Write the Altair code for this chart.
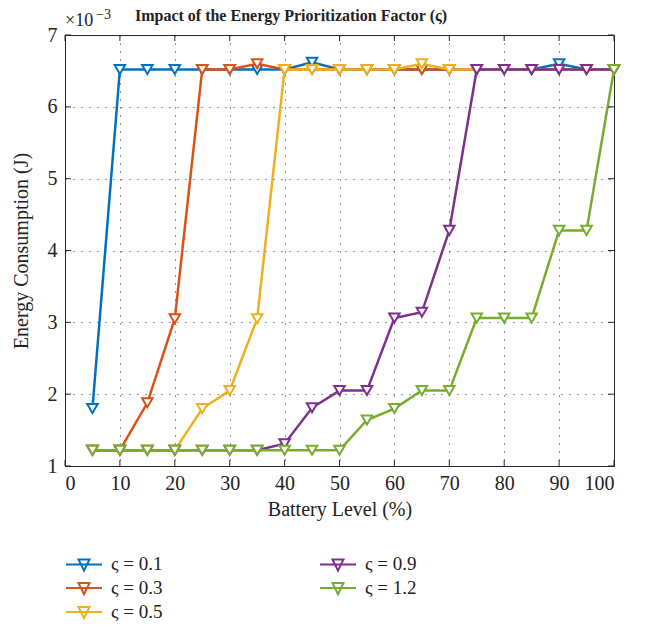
import altair as alt
import pandas as pd

battery = [5, 10, 15, 20, 25, 30, 35, 40, 45, 50, 55, 60, 65, 70, 75, 80, 85, 90, 95, 100]

# energy in units of 1e-3 J
s01 = [1.80, 6.52, 6.52, 6.52, 6.52, 6.52, 6.52, 6.52, 6.62, 6.52, 6.52, 6.52, 6.52, 6.52, 6.52, 6.52, 6.52, 6.60, 6.52, 6.52]
s03 = [1.22, 1.22, 1.88, 3.05, 6.52, 6.52, 6.60, 6.52, 6.52, 6.52, 6.52, 6.52, 6.52, 6.52, 6.52, 6.52, 6.52, 6.52, 6.52, 6.52]
s05 = [1.22, 1.22, 1.22, 1.22, 1.80, 2.05, 3.05, 6.52, 6.52, 6.52, 6.52, 6.52, 6.60, 6.52, 6.52, 6.52, 6.52, 6.52, 6.52, 6.52]
s09 = [1.22, 1.22, 1.22, 1.22, 1.22, 1.22, 1.22, 1.31, 1.81, 2.05, 2.05, 3.06, 3.14, 4.28, 6.52, 6.52, 6.52, 6.52, 6.52, 6.52]
s12 = [1.22, 1.22, 1.22, 1.22, 1.22, 1.22, 1.22, 1.22, 1.22, 1.22, 1.64, 1.80, 2.05, 2.05, 3.06, 3.06, 3.06, 4.28, 4.28, 6.52]

series_names = ["ς = 0.1", "ς = 0.3", "ς = 0.5", "ς = 0.9", "ς = 1.2"]
series_vals = [s01, s03, s05, s09, s12]
series_colors = ["#0072BD", "#D95319", "#EDB120", "#7E2F8E", "#77AC30"]

x_ticks = [0, 10, 20, 30, 40, 50, 60, 70, 80, 90, 100]
y_ticks = [1, 2, 3, 4, 5, 6, 7]

title_text = "Impact of the Energy Prioritization Factor (ς)"

rows = []
for name, vals in zip(series_names, series_vals):
    for b, v in zip(battery, vals):
        rows.append({"series": name, "battery": b, "energy": v})
df = pd.DataFrame(rows)

W, H = 549, 431
FONT = "Liberation Serif"
TXT = "#222222"

xscale = alt.Scale(domain=[0, 100], nice=False, zero=False)
yscale = alt.Scale(domain=[1, 7], nice=False, zero=False)
cscale = alt.Scale(domain=series_names, range=series_colors)

# line with a down-pointing triangle, drawn larger than the layout box
sym = "M-1.8,0L1.8,0M-0.55,-0.5L0.55,-0.5L0,0.62Z"

legend = alt.Legend(
    orient="none", legendX=8, legendY=518, columns=2, title=None,
    symbolType=sym, symbolSize=400, symbolStrokeWidth=2, symbolFillColor="white",
    labelFont=FONT, labelFontSize=19, labelColor=TXT, labelOffset=16,
    columnPadding=153, rowPadding=2,
)

x_enc = alt.X("battery:Q", scale=xscale,
              axis=alt.Axis(values=x_ticks, format="d", title="Battery Level (%)", grid=True))
y_enc = alt.Y("energy:Q", scale=yscale,
              axis=alt.Axis(values=y_ticks, format="d", title="Energy Consumption (J)", grid=True))

layers = []
for i, name in enumerate(series_names):
    base = alt.Chart(df).transform_filter(alt.datum.series == name)
    color = alt.Color("series:N", scale=cscale, legend=legend)
    line = base.mark_line(strokeWidth=2.5).encode(x=x_enc, y=y_enc, color=color)
    pts = base.mark_point(shape="triangle-down", filled=False, size=110, strokeWidth=2,
                          fill="white", fillOpacity=1, opacity=1).encode(
        x="battery:Q", y="energy:Q", stroke=alt.Color("series:N", scale=cscale, legend=legend))
    layers += [line, pts]

# inner tick marks
ydf = pd.DataFrame({"t": y_ticks})
xdf = pd.DataFrame({"t": x_ticks})
tick_col = "#262626"
ytl = alt.Chart(ydf).mark_rule(color=tick_col, strokeWidth=1).encode(
    y=alt.Y("t:Q", scale=yscale), x=alt.value(0), x2=alt.value(6))
ytr = alt.Chart(ydf).mark_rule(color=tick_col, strokeWidth=1).encode(
    y=alt.Y("t:Q", scale=yscale), x=alt.value(W), x2=alt.value(W - 6))
xtb = alt.Chart(xdf).mark_rule(color=tick_col, strokeWidth=1).encode(
    x=alt.X("t:Q", scale=xscale), y=alt.value(H), y2=alt.value(H - 6))
xtt = alt.Chart(xdf).mark_rule(color=tick_col, strokeWidth=1).encode(
    x=alt.X("t:Q", scale=xscale), y=alt.value(0), y2=alt.value(6))

exp1 = alt.Chart(pd.DataFrame({"t": ["×10"]})).mark_text(
    font=FONT, fontSize=18, align="left", baseline="alphabetic", color=TXT).encode(
    text="t:N", x=alt.value(0), y=alt.value(-9))
exp2 = alt.Chart(pd.DataFrame({"t": ["−3"]})).mark_text(
    font=FONT, fontSize=14, align="left", baseline="alphabetic", color=TXT).encode(
    text="t:N", x=alt.value(31), y=alt.value(-16))
ttl = alt.Chart(pd.DataFrame({"t": [title_text]})).mark_text(
    font=FONT, fontSize=16, fontWeight="bold", align="center", baseline="alphabetic",
    color=TXT).encode(text="t:N", x=alt.value(226), y=alt.value(-14))

chart = alt.layer(*layers, ytl, ytr, xtb, xtt, exp1, exp2, ttl).properties(
    width=W, height=H,
    autosize=alt.AutoSizeParams(type="none"),
    padding={"left": 57, "top": 27, "right": 24, "bottom": 155},
).configure_view(stroke="#262626", strokeWidth=1).configure_axis(
    labelFont=FONT, labelFontSize=20, labelColor=TXT, titleFont=FONT,
    titleFontSize=20, titleColor=TXT, titleFontWeight="normal",
    domainColor="#262626", ticks=False,
    gridColor="#333", gridDash=[1, 7], gridWidth=1, gridOpacity=1,
).configure_axisX(titlePadding=6, labelPadding=7).configure_axisY(
    titlePadding=16, labelPadding=8
).configure_legend(rowPadding=2, columnPadding=153)

chart.save("out.html", embed_options={"renderer": "svg", "actions": False})
